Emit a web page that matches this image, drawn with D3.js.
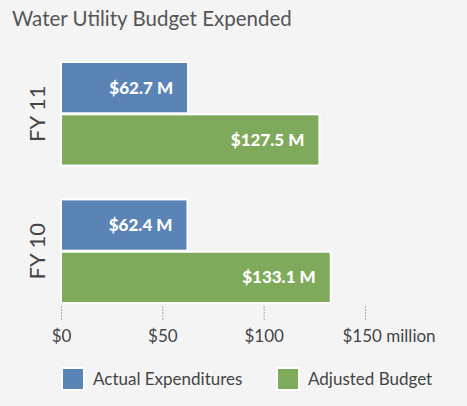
<!DOCTYPE html>
<html>
<head>
<meta charset="utf-8">
<script src="https://cdn.jsdelivr.net/npm/d3@7"></script>
<style>
  html, body { margin: 0; padding: 0; background: #f4f4f4; }
  svg { display: block; }
  .title { font-family: Lato, sans-serif; font-size: 20.5px; fill: #555; }
  .ylab { font-family: Lato, sans-serif; font-size: 22px; fill: #444; }
  .val { font-family: Lato, sans-serif; font-size: 17px; font-weight: 900; fill: #fff; }
  .axis text { font-family: Lato, sans-serif; font-size: 17px; fill: #444; }
  .legend text { font-family: Lato, sans-serif; font-size: 17px; fill: #444; }
</style>
</head>
<body>
<svg class="chart" width="467" height="406"></svg>
<script>
// data
var years = ["FY 11", "FY 10"];
var series = ["Actual Expenditures", "Adjusted Budget"];
var actual = [62.7, 62.4];
var adjusted = [127.5, 133.1];
var tick_values = [0, 50, 100, 150];
var colors = ["#5b84b6", "#80aa5b"];

var w = 467, h = 406;
var chart = d3.select(".chart");

chart.append("rect").attr("width", w).attr("height", h).attr("fill", "#f4f4f4");

chart.append("text")
  .attr("class", "title")
  .attr("x", 12)
  .attr("y", 26)
  .text("Water Utility Budget Expended");

var x = d3.scaleLinear()
    .domain([0, 150])
    .range([61, 365]);

var y0 = d3.scaleBand()
    .domain(years)
    .range([62, 303])
    .paddingInner(0.246);

var y1 = d3.scaleBand()
    .domain(series)
    .range([0, y0.bandwidth()])
    .paddingInner(0.02);

var rows = years.map(function(d, i) {
  return {year: d, values: [actual[i], adjusted[i]]};
});

var groups = chart.selectAll(".group")
    .data(rows)
  .enter().append("g")
    .attr("class", "group")
    .attr("transform", function(d) { return "translate(0," + y0(d.year) + ")"; });

groups.selectAll("rect")
    .data(function(d) { return d.values.map(function(v, i) { return {s: series[i], v: v, i: i}; }); })
  .enter().append("rect")
    .attr("x", x(0))
    .attr("y", function(d) { return y1(d.s); })
    .attr("width", function(d) { return x(d.v) - x(0); })
    .attr("height", y1.bandwidth())
    .attr("fill", function(d) { return colors[d.i]; })
    .attr("stroke", "#fff")
    .attr("stroke-width", 2);

groups.selectAll(".val")
    .data(function(d) { return d.values.map(function(v, i) { return {s: series[i], v: v}; }); })
  .enter().append("text")
    .attr("class", "val")
    .attr("x", function(d) { return x(d.v) - 15; })
    .attr("y", function(d) { return y1(d.s) + y1.bandwidth() / 2; })
    .attr("dy", "0.35em")
    .attr("text-anchor", "end")
    .text(function(d) { return "$" + d.v.toFixed(1) + " M"; });

groups.append("text")
    .attr("class", "ylab")
    .attr("transform", function(d) { return "translate(45," + y0.bandwidth() / 2 + ") rotate(-90)"; })
    .attr("text-anchor", "middle")
    .text(function(d) { return d.year; });

// x axis
var x_axis = chart.append("g")
    .attr("class", "axis")
    .attr("transform", "translate(0,306)")
    .call(d3.axisBottom(x)
      .tickValues(tick_values)
      .tickSize(15)
      .tickPadding(9)
      .tickFormat(function(d) { return d == 150 ? "$" + d + " million" : "$" + d; }));

x_axis.select(".domain").remove();
x_axis.selectAll(".tick line")
    .attr("stroke", "#aaa")
    .attr("stroke-dasharray", "2,1");
x_axis.selectAll(".tick text")
    .filter(function(d) { return d == 150; })
    .attr("text-anchor", "start")
    .attr("dx", -23);

// legend
var legend = chart.append("g")
    .attr("class", "legend")
    .selectAll("g")
    .data(series)
  .enter().append("g")
    .attr("transform", function(d, i) { return "translate(" + [62, 277][i] + ",368)"; });

legend.append("rect")
    .attr("width", 22)
    .attr("height", 22)
    .attr("fill", function(d, i) { return colors[i]; })
    .attr("stroke", "#fff")
    .attr("stroke-width", 2);

legend.append("text")
    .attr("x", 31)
    .attr("y", 11)
    .attr("dy", "0.35em")
    .text(function(d) { return d; });
</script>
</body>
</html>
